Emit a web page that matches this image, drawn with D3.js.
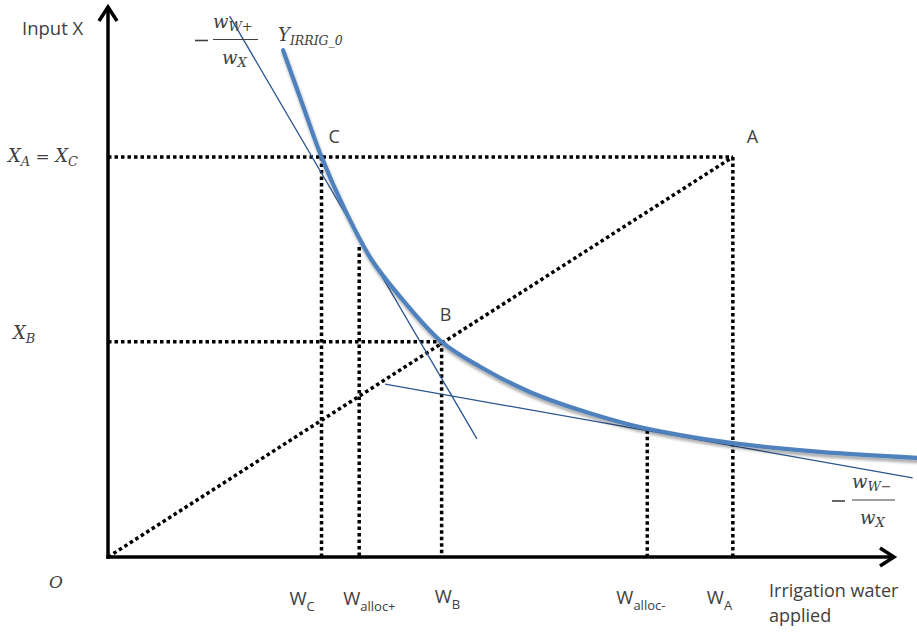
<!DOCTYPE html>
<html>
<head>
<meta charset="utf-8">
<script src="https://cdn.jsdelivr.net/npm/d3@7"></script>
<style>
  html, body { margin: 0; padding: 0; background: #fff; }
  svg { display: block; }
  .sans { font-family: "Open Sans", sans-serif; fill: #404040; }
  .math { font-family: "DejaVu Serif", serif; font-style: italic; fill: #404040; }
</style>
</head>
<body>
<svg id="chart" width="917" height="634"></svg>
<script>
// Isoquant Y_IRRIG_0: irrigation water applied (W) vs. input X
const curveW = [22.3, 24.7, 27.2, 30.2, 33.6, 37.8, 42.5, 47.4, 53.8, 60.1, 66.5, 72.9, 79.6, 90.7, 103.1];
const curveX = [93.5, 83.8, 73.8, 64.0, 54.8, 47.0, 39.7, 35.1, 30.4, 27.1, 24.4, 22.5, 21.0, 19.4, 18.3];

// Named points on the diagram
const pointNames = ["C", "B", "A"];
const pointW = [27.2, 42.5, 79.6];
const pointX = [73.8, 39.7, 73.8];

// Water levels marked on the horizontal axis, and where their drop lines start
const waterSubs = ["C", "alloc+", "B", "alloc-", "A"];
const waterW = [27.2, 32.0, 42.5, 68.7, 79.6];
const waterTopX = [73.8, 57.2, 39.7, 23.4, 73.8];

// Input levels marked on the vertical axis
const inputX = [73.8, 39.7];

// Price lines tangent to the isoquant (endpoints in W, X)
const priceSteepW = [15.5, 47.0];
const priceSteepX = [99.8, 21.8];
const priceFlatW = [35.3, 102.5];
const priceFlatX = [31.9, 14.6];

const svg = d3.select("#chart");
const x = d3.scaleLinear().domain([0, 100]).range([108, 893]);
const y = d3.scaleLinear().domain([0, 100]).range([557, 15]);

const defs = svg.append("defs");
const shadow = defs.append("filter").attr("id", "shade")
  .attr("x", "-10%").attr("y", "-10%").attr("width", "120%").attr("height", "130%");
shadow.append("feDropShadow").attr("dx", 1).attr("dy", 3).attr("stdDeviation", 1.6)
  .attr("flood-color", "#000").attr("flood-opacity", 0.35);

// Dotted guide lines
const dotted = svg.append("g").attr("stroke", "#000").attr("stroke-width", 3.5)
  .attr("stroke-dasharray", "3.5,3").attr("fill", "none");
// horizontal from X_A = X_C to A, and from X_B to B
dotted.append("line").attr("x1", x(0)).attr("x2", x(pointW[2]))
  .attr("y1", y(inputX[0])).attr("y2", y(inputX[0]));
dotted.append("line").attr("x1", x(0)).attr("x2", x(pointW[1]))
  .attr("y1", y(inputX[1])).attr("y2", y(inputX[1]));
// vertical drops to the water axis
waterW.forEach((w, i) => {
  dotted.append("line").attr("x1", x(w)).attr("x2", x(w))
    .attr("y1", y(waterTopX[i])).attr("y2", y(0));
});
// ray from the origin through B to A
dotted.append("line").attr("x1", x(0)).attr("y1", y(0))
  .attr("x2", x(pointW[2])).attr("y2", y(pointX[2]));

// Price lines
const tangents = svg.append("g").attr("stroke", "#2a5590").attr("stroke-width", 1.3);
tangents.append("line").attr("x1", x(priceSteepW[0])).attr("y1", y(priceSteepX[0]))
  .attr("x2", x(priceSteepW[1])).attr("y2", y(priceSteepX[1]));
tangents.append("line").attr("x1", x(priceFlatW[0])).attr("y1", y(priceFlatX[0]))
  .attr("x2", x(priceFlatW[1])).attr("y2", y(priceFlatX[1]));

// Isoquant
const curveData = curveW.map((w, i) => [w, curveX[i]]);
svg.append("path").datum(curveData)
  .attr("d", d3.line().x(d => x(d[0])).y(d => y(d[1])).curve(d3.curveCatmullRom.alpha(0.5)))
  .attr("fill", "none").attr("stroke", "#4f81bd").attr("stroke-width", 4.2)
  .attr("stroke-linecap", "round").attr("filter", "url(#shade)");

// Axes with arrowheads
const axes = svg.append("g").attr("stroke", "#000").attr("stroke-width", 3.5).attr("fill", "none");
axes.append("line").attr("x1", x(0)).attr("y1", y(0) + 1.7).attr("x2", x(0)).attr("y2", 8);
axes.append("line").attr("x1", x(0) - 1.7).attr("y1", y(0)).attr("x2", 893).attr("y2", y(0));
axes.append("path").attr("d", `M${x(0) - 9},21 L${x(0)},7 L${x(0) + 9},21`)
  .attr("stroke-linejoin", "miter");
axes.append("path").attr("d", `M880,${y(0) - 9} L894,${y(0)} L880,${y(0) + 9}`)
  .attr("stroke-linejoin", "miter");

// Axis titles
svg.append("text").attr("class", "sans").attr("x", 22).attr("y", 35)
  .attr("font-size", 18.5).text("Input X");
const waterTitle = svg.append("text").attr("class", "sans").attr("font-size", 18);
waterTitle.append("tspan").attr("x", 769).attr("y", 597).text("Irrigation water");
waterTitle.append("tspan").attr("x", 769).attr("y", 622).text("applied");

// Point labels
const labelShift = [[7, -14], [-2, -21], [14, -14]];
pointNames.forEach((n, i) => {
  svg.append("text").attr("class", "sans").attr("font-size", 18)
    .attr("x", x(pointW[i]) + labelShift[i][0]).attr("y", y(pointX[i]) + labelShift[i][1])
    .text(n);
});

// Water-axis labels: W with subscripts
const waterDx = [-32, -16, -7, -31, -26];
const waterBase = [605, 605, 603, 604, 604];
waterSubs.forEach((s, i) => {
  const t = svg.append("text").attr("class", "sans")
    .attr("x", x(waterW[i]) + waterDx[i]).attr("y", waterBase[i]);
  t.append("tspan").attr("font-size", 18.5).text("W");
  t.append("tspan").attr("font-size", 13).attr("dy", 6).text(s);
});

// Math labels
function mathLabel(px, py, parts) {
  const t = svg.append("text").attr("class", "math").attr("x", px).attr("y", py);
  let prevDy = 0;
  parts.forEach(p => {
    const dy = (p.dy || 0) - prevDy;
    t.append("tspan").attr("font-size", p.size || 18).attr("dy", dy)
      .attr("font-style", p.upright ? "normal" : null).text(p.t);
    prevDy = p.dy || 0;
  });
  return t;
}

// Input-axis labels
mathLabel(8, 162, [{t: "X"}, {t: "A", size: 13, dy: 4}, {t: " = ", upright: true, size: 17}, {t: "X"}, {t: "C", size: 13, dy: 4}]);
mathLabel(13, 339, [{t: "X"}, {t: "B", size: 13, dy: 4}]);
mathLabel(49, 588, [{t: "O", size: 17}]);

// Isoquant name
mathLabel(278, 41, [{t: "Y"}, {t: "IRRIG_0", size: 12.5, dy: 4}]);

// Price-ratio fractions
function fraction(mx, barY, numX, denX, sign, barW) {
  svg.append("line").attr("x1", mx).attr("x2", mx + 13)
    .attr("y1", barY + 1).attr("y2", barY + 1).attr("stroke", "#404040").attr("stroke-width", 1.6);
  mathLabel(numX, barY - 12, [{t: "w"}, {t: "W" + sign, size: 13, dy: 3}]);
  svg.append("line").attr("x1", numX).attr("x2", numX + barW)
    .attr("y1", barY).attr("y2", barY).attr("stroke", "#404040").attr("stroke-width", 1.2);
  mathLabel(denX, barY + 24, [{t: "w"}, {t: "X", size: 13, dy: 3}]);
}
fraction(195, 39.5, 213, 222, "+", 45);
fraction(832, 500, 852, 860, "−", 43);
</script>
</body>
</html>
